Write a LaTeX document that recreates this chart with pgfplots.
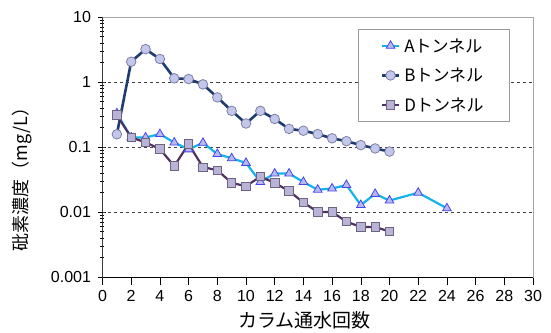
\documentclass[border=0pt]{standalone}
\usepackage{pgfplots}
\pgfplotsset{compat=1.18}
\usepackage{fontspec}
\setmainfont{Liberation Sans}
\newfontfamily\cjk{Noto Sans CJK JP}
\definecolor{Aline}{RGB}{20,180,235}
\definecolor{Afill}{RGB}{185,185,240}
\definecolor{Aedge}{RGB}{70,70,235}
\definecolor{Bline}{RGB}{30,60,110}
\definecolor{Bfill}{RGB}{195,200,235}
\definecolor{Bedge}{RGB}{125,125,170}
\definecolor{Dline}{RGB}{80,50,95}
\definecolor{Dfill}{RGB}{185,180,215}
\definecolor{Dedge}{RGB}{110,100,130}
\begin{document}
\begin{tikzpicture}
\begin{axis}[
  scale only axis,
  width=430.5pt, height=260pt,
  xmin=0, xmax=30, ymin=0.001, ymax=10,
  ymode=log,
  xtick={0,2,...,30},
  ytick={0.001,0.01,0.1,1,10},
  yticklabels={0.001,0.01,0.1,1,10},
  /pgf/number format/assume math mode=true,
  ticklabel style={font=\fontsize{16}{19}\selectfont},
  yticklabel style={xshift=-4pt},
  xticklabel style={yshift=-2pt},
  xtick align=outside,
  ytick align=center,
  major tick length=8pt,
  minor tick length=4pt,
  tick style={black, line width=0.6pt},
  minor tick style={black, line width=0.5pt},
  xtick pos=bottom, ytick pos=left,
  axis line style={gray!70, line width=0.8pt},
  extra y ticks={0.01,0.1,1},
  extra y tick labels={},
  extra y tick style={grid=major, major grid style={black!75, dashed, line width=0.8pt}, major tick length=0pt},
  xlabel={\cjk カラム通水回数},
  ylabel={\cjk 砒素濃度（mg/L）},
  xlabel style={font=\fontsize{19}{22}\selectfont, at={(axis description cs:0.469,-0.165)}, anchor=center},
  ylabel style={font=\fontsize{18}{21}\selectfont, at={(axis description cs:-0.187,0.392)}, anchor=center, rotate=0},
  legend style={at={(axis cs:28.4,6.5)}, anchor=north east, draw=gray!80, line width=0.6pt,
    font=\cjk\fontsize{17}{20}\selectfont, inner xsep=22pt, inner ysep=5pt,
    nodes={inner sep=4pt, text depth=1pt}, row sep=7pt},
  legend cell align=left,
]
\addplot[color=Aline, line width=2.2pt, mark=triangle*, mark size=5pt,
  mark options={fill=Afill, draw=Aedge, line width=0.8pt}] coordinates {
(1,0.33)(2,0.14)(3,0.14)(4,0.158)(5,0.117)(6,0.092)(7,0.116)(8,0.078)(9,0.067)(10,0.057)
(11,0.029)(12,0.039)(13,0.039)(14,0.029)(15,0.022)(16,0.023)(17,0.026)(18,0.0128)(19,0.019)(20,0.015)(22,0.0198)(24,0.0114)};
\addlegendentry{Aトンネル}
\addplot[color=Bline, line width=2.6pt, mark=*, mark size=4.8pt,
  mark options={fill=Bfill, draw=Bedge, line width=0.8pt}] coordinates {
(1,0.157)(2,2.05)(3,3.2)(4,2.26)(5,1.14)(6,1.11)(7,0.92)(8,0.58)(9,0.36)(10,0.23)
(11,0.36)(12,0.27)(13,0.19)(14,0.178)(15,0.158)(16,0.136)(17,0.123)(18,0.107)(19,0.095)(20,0.085)};
\addlegendentry{Bトンネル}
\addplot[color=Dline, line width=2.2pt, mark=square*, mark size=4.2pt,
  mark options={fill=Dfill, draw=Dedge, line width=0.8pt}] coordinates {
(1,0.31)(2,0.14)(3,0.118)(4,0.093)(5,0.051)(6,0.111)(7,0.049)(8,0.044)(9,0.028)(10,0.025)
(11,0.035)(12,0.028)(13,0.021)(14,0.014)(15,0.010)(16,0.010)(17,0.0071)(18,0.0059)(19,0.0059)(20,0.005)};
\addlegendentry{Dトンネル}
\draw[black, line width=0.8pt] (rel axis cs:0,1) -- (rel axis cs:0,0) -- (rel axis cs:1,0);
\end{axis}
\path ([xshift=-102.5pt,yshift=-54pt]current axis.south west) rectangle ([xshift=18pt,yshift=17pt]current axis.north east);
\end{tikzpicture}
\end{document}
